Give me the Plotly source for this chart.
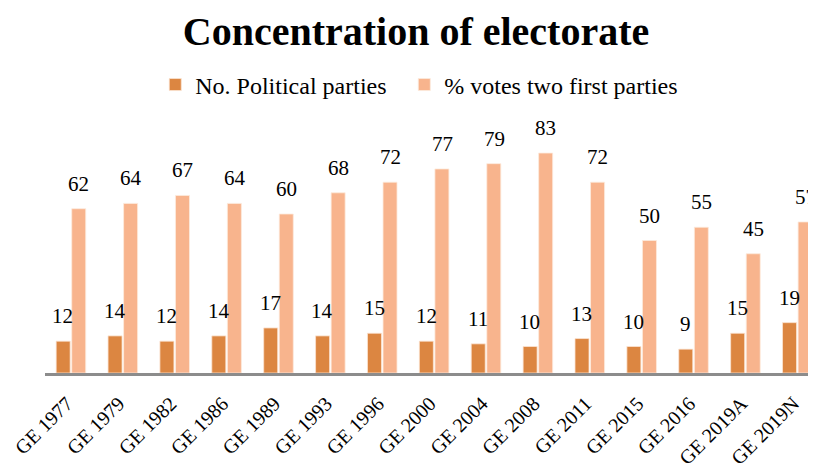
import plotly.graph_objects as go

categories = ["GE 1977", "GE 1979", "GE 1982", "GE 1986", "GE 1989", "GE 1993", "GE 1996",
              "GE 2000", "GE 2004", "GE 2008", "GE 2011", "GE 2015", "GE 2016", "GE 2019A", "GE 2019N"]
parties = [12, 14, 12, 14, 17, 14, 15, 12, 11, 10, 13, 10, 9, 15, 19]
votes_two_first = [62, 64, 67, 64, 60, 68, 72, 77, 79, 83, 72, 50, 55, 45, 57]

FONT = "Liberation Serif"
DARK = "#DC8641"
LIGHT = "#F8B48D"

fig = go.Figure()
fig.add_trace(go.Bar(
    x=categories, y=parties, name="No. Political parties", legend="legend",
    marker=dict(color=DARK, line=dict(color="#FBE3D2", width=0.8)),
))
fig.add_trace(go.Bar(
    x=categories, y=votes_two_first, name="% votes two first parties", legend="legend2",
    marker=dict(color=LIGHT, line=dict(color="#FDEBDD", width=0.8)),
))

annotations = []
for cat, v in zip(categories, parties):
    annotations.append(dict(x=cat, y=v, text=str(v), showarrow=False, xanchor="center", yanchor="bottom",
                            xshift=-8, yshift=11, font=dict(size=21, family=FONT, color="black")))
for cat, v in zip(categories, votes_two_first):
    annotations.append(dict(x=cat, y=v, text=str(v), showarrow=False, xanchor="center", yanchor="bottom",
                            xshift=8, yshift=11, font=dict(size=21, family=FONT, color="black")))

legend_common = dict(orientation="h", xanchor="left", yanchor="middle", y=1.087,
                     font=dict(size=24, family=FONT, color="black"), itemwidth=30,
                     bgcolor="rgba(0,0,0,0)")

fig.update_layout(
    width=816, height=471,
    paper_bgcolor="white", plot_bgcolor="white",
    font=dict(family=FONT, color="black", size=20),
    title=dict(text="<b>Concentration of electorate</b>", x=0.5, xanchor="center",
               y=0.952, yanchor="middle", font=dict(size=40, family=FONT, color="black")),
    legend=dict(x=0.143, **legend_common),
    legend2=dict(x=0.466, **legend_common),
    barmode="group", bargap=0.4, bargroupgap=0.1,
    margin=dict(l=37, r=8, t=100, b=106, autoexpand=False),
    annotations=annotations,
    showlegend=True,
)
fig.update_xaxes(showline=True, linecolor="#8C8C8C", linewidth=3, tickangle=-45,
                 tickfont=dict(size=20, family=FONT, color="black"), ticks="", showgrid=False,
                 range=[-0.5, 14.36], automargin=False, ticklabelstandoff=8, ticklabelshift=-4)
fig.update_yaxes(range=[0, 100], visible=False, showgrid=False, automargin=False)

fig.write_html("out.html")
